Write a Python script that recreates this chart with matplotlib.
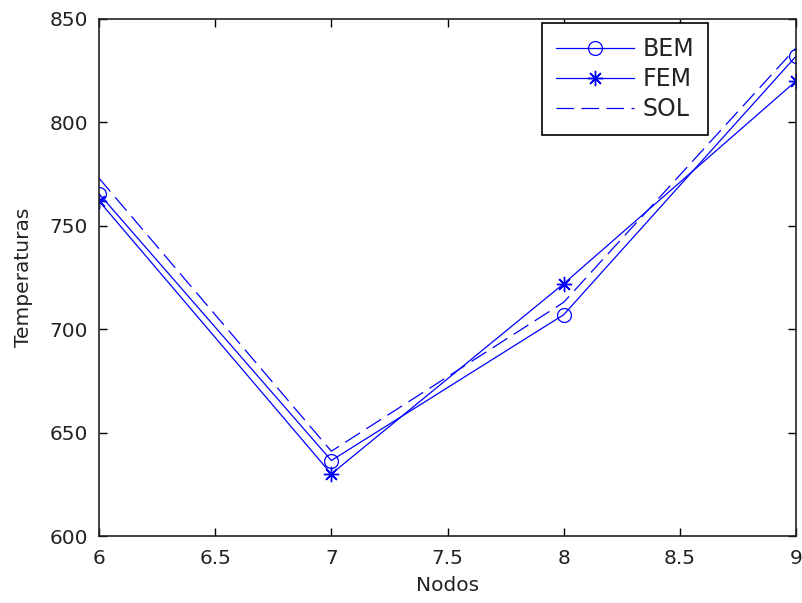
import numpy as np
import matplotlib.pyplot as plt

plt.rcParams['font.family'] = 'DejaVu Sans'
plt.rcParams['font.size'] = 14

nodos = [6, 7, 8, 9]
bem = [765.5, 636.5, 707, 832]
fem = [762, 630, 722, 820]
sol = [773, 641, 713, 836]

fig = plt.figure(figsize=(8.03, 6.03), dpi=100)
ax = fig.add_axes([0.1233, 0.1111, 0.868, 0.8574])

ax.plot(nodos, bem, color='blue', lw=0.9, marker='o', ms=10, mfc='none', mew=0.9, label='BEM')
ax.plot(nodos, fem, color='blue', lw=0.9, marker=(8, 2, 0), ms=11, mew=1.0, label='FEM')
ax.plot(nodos, sol, color='blue', lw=0.9, ls=(0, (14, 6)), label='SOL')

ax.set_xlim(6, 9)
ax.set_ylim(600, 850)
ax.set_xticks([6, 6.5, 7, 7.5, 8, 8.5, 9])
ax.set_xticklabels(['6', '6.5', '7', '7.5', '8', '8.5', '9'])
ax.set_yticks([600, 650, 700, 750, 800, 850])
ax.tick_params(direction='in', top=True, right=True, length=6, width=1,
               labelsize=14.5, labelcolor='#222222')
ax.tick_params(axis='x', pad=9)
ax.tick_params(axis='y', pad=8)
for s in ax.spines.values():
    s.set_linewidth(1.2)
    s.set_color('#222222')

ax.set_xlabel('Nodos', fontsize=14.5, labelpad=6, color='#222222')
ax.set_ylabel('Temperaturas', fontsize=14.5, labelpad=12, color='#222222')

leg = ax.legend(loc='upper right', bbox_to_anchor=(0.874, 0.992), borderaxespad=0,
                fancybox=False, framealpha=1, edgecolor='black', fontsize=17,
                handlelength=3.3, handletextpad=0.35, labelspacing=0.25, borderpad=0.6)
leg.get_frame().set_linewidth(1.2)
for t in leg.get_texts():
    t.set_color('#222222')

fig.savefig('out.png', dpi=100)
